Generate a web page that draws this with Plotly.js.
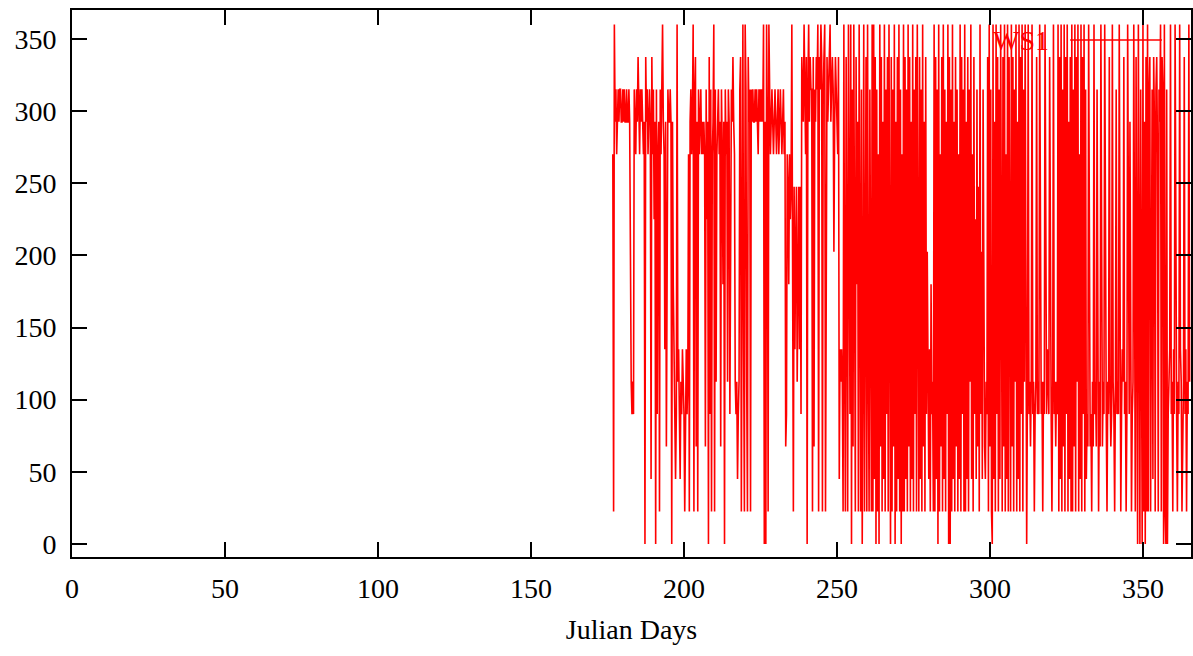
<!DOCTYPE html>
<html>
<head>
<meta charset="utf-8">
<script src="https://cdn.plot.ly/plotly-3.0.1.min.js"></script>
<style>
  html, body { margin: 0; padding: 0; background: #fff; }
  #chart { width: 1193px; height: 656px; }
</style>
</head>
<body>
<div id="chart"></div>
<script>
// ---- data (wind direction, degrees) ----
const seriesName = "WS1";
const startDay = 176.75;     // first sample (Julian day)
const stepDays = 0.25;       // sample spacing (days)

const windDirection = [
  270, 22.5, 360, 292.5, 315, 270, 292.5, 315, 292.5, 315, 315, 292.5, 292.5, 315, 292.5, 315, 292.5, 292.5, 315, 292.5,
  292.5, 315, 292.5, 135, 112.5, 90, 112.5, 90, 315, 292.5, 270, 315, 292.5, 337.5, 292.5, 270, 315, 292.5, 315, 292.5,
  270, 292.5, 0, 337.5, 292.5, 315, 270, 292.5, 315, 292.5, 45, 337.5, 270, 315, 225, 292.5, 0, 315, 90, 270,
  292.5, 22.5, 315, 270, 337.5, 360, 292.5, 270, 135, 292.5, 67.5, 157.5, 315, 292.5, 292.5, 315, 292.5, 0, 292.5, 180,
  135, 112.5, 45, 90, 360, 112.5, 135, 90, 45, 112.5, 90, 135, 112.5, 90, 22.5, 112.5, 135, 90, 112.5, 270,
  22.5, 292.5, 315, 270, 292.5, 360, 22.5, 315, 337.5, 67.5, 292.5, 22.5, 315, 270, 292.5, 315, 270, 292.5, 270, 292.5,
  270, 67.5, 315, 225, 292.5, 0, 337.5, 90, 315, 22.5, 270, 292.5, 360, 22.5, 315, 112.5, 270, 292.5, 315, 270,
  292.5, 67.5, 315, 270, 180, 292.5, 0, 315, 270, 292.5, 112.5, 315, 292.5, 90, 270, 315, 292.5, 337.5, 292.5, 270,
  112.5, 90, 112.5, 45, 90, 112.5, 315, 337.5, 22.5, 292.5, 360, 135, 22.5, 360, 315, 112.5, 22.5, 337.5, 292.5, 315,
  22.5, 315, 292.5, 315, 292.5, 292.5, 315, 292.5, 315, 292.5, 270, 315, 292.5, 315, 292.5, 315, 292.5, 360, 0, 292.5,
  0, 360, 292.5, 22.5, 360, 315, 270, 292.5, 315, 292.5, 270, 292.5, 315, 292.5, 270, 292.5, 315, 270, 292.5, 315,
  292.5, 270, 292.5, 315, 270, 292.5, 67.5, 90, 270, 247.5, 180, 270, 225, 247.5, 360, 180, 22.5, 247.5, 135, 202.5,
  247.5, 112.5, 180, 247.5, 135, 247.5, 90, 337.5, 315, 292.5, 360, 315, 270, 337.5, 0, 315, 360, 292.5, 337.5, 315,
  315, 22.5, 337.5, 67.5, 315, 292.5, 337.5, 315, 360, 22.5, 337.5, 315, 360, 337.5, 22.5, 315, 337.5, 360, 22.5, 315,
  337.5, 292.5, 315, 337.5, 360, 292.5, 315, 337.5, 315, 202.5, 292.5, 337.5, 315, 292.5, 270, 337.5, 45, 135, 112.5, 135,
  112.5, 22.5, 360, 135, 22.5, 337.5, 112.5, 22.5, 360, 135, 90, 360, 0, 315, 67.5, 360, 157.5, 22.5, 337.5, 180,
  292.5, 22.5, 360, 157.5, 22.5, 315, 0, 135, 360, 22.5, 202.5, 337.5, 22.5, 360, 135, 22.5, 315, 180, 22.5, 360,
  22.5, 360, 45, 337.5, 0, 315, 22.5, 270, 0, 360, 67.5, 337.5, 22.5, 292.5, 45, 360, 22.5, 315, 90, 337.5,
  22.5, 360, 45, 0, 337.5, 22.5, 315, 67.5, 360, 0, 292.5, 22.5, 337.5, 45, 360, 22.5, 315, 0, 270, 22.5,
  360, 22.5, 337.5, 45, 315, 22.5, 360, 67.5, 337.5, 22.5, 292.5, 45, 360, 22.5, 315, 90, 337.5, 22.5, 360, 45,
  22.5, 337.5, 45, 315, 22.5, 360, 67.5, 292.5, 22.5, 337.5, 90, 202.5, 112.5, 45, 135, 22.5, 180, 90, 112.5, 22.5,
  360, 22.5, 337.5, 45, 315, 0, 360, 22.5, 270, 67.5, 337.5, 22.5, 360, 45, 315, 22.5, 292.5, 90, 360, 0,
  337.5, 0, 315, 22.5, 360, 45, 292.5, 22.5, 337.5, 67.5, 315, 22.5, 270, 45, 360, 22.5, 337.5, 90, 315, 22.5,
  360, 22.5, 292.5, 45, 337.5, 22.5, 315, 112.5, 360, 45, 270, 22.5, 337.5, 90, 225, 45, 315, 67.5, 247.5, 22.5,
  360, 90, 202.5, 45, 315, 112.5, 67.5, 45, 112.5, 90, 337.5, 22.5, 360, 67.5, 315, 22.5, 0, 360, 45, 292.5,
  22.5, 360, 90, 337.5, 22.5, 315, 45, 360, 112.5, 22.5, 337.5, 67.5, 360, 22.5, 270, 45, 360, 22.5, 337.5, 90,
  22.5, 360, 67.5, 337.5, 22.5, 315, 112.5, 360, 22.5, 292.5, 45, 360, 22.5, 337.5, 90, 360, 22.5, 315, 112.5, 360,
  90, 0, 112.5, 360, 90, 112.5, 67.5, 112.5, 360, 90, 112.5, 22.5, 90, 112.5, 337.5, 90, 112.5, 90, 360, 112.5,
  90, 112.5, 22.5, 112.5, 90, 360, 112.5, 90, 135, 112.5, 90, 337.5, 112.5, 90, 22.5, 112.5, 360, 90, 112.5, 67.5,
  112.5, 90, 360, 22.5, 337.5, 45, 360, 22.5, 315, 67.5, 360, 22.5, 337.5, 90, 360, 22.5, 292.5, 45, 337.5, 22.5,
  360, 22.5, 315, 67.5, 360, 22.5, 337.5, 112.5, 360, 22.5, 270, 45, 360, 22.5, 337.5, 90, 360, 22.5, 315, 45,
  90, 67.5, 360, 112.5, 67.5, 90, 22.5, 112.5, 67.5, 360, 90, 112.5, 67.5, 315, 90, 22.5, 112.5, 67.5, 360, 90,
  67.5, 112.5, 90, 360, 112.5, 90, 22.5, 112.5, 90, 337.5, 112.5, 67.5, 90, 360, 112.5, 90, 22.5, 112.5, 315, 90,
  112.5, 90, 360, 112.5, 22.5, 90, 135, 112.5, 337.5, 90, 112.5, 22.5, 90, 360, 112.5, 90, 292.5, 112.5, 22.5, 90,
  112.5, 360, 90, 22.5, 337.5, 112.5, 0, 360, 22.5, 0, 315, 45, 0, 360, 22.5, 292.5, 0, 337.5, 22.5, 360,
  22.5, 315, 337.5, 22.5, 292.5, 315, 45, 337.5, 292.5, 22.5, 315, 337.5, 270, 22.5, 315, 292.5, 360, 22.5, 337.5, 315,
  0, 360, 22.5, 0, 315, 0, 90, 112.5, 135, 360, 90, 112.5, 22.5, 135, 90, 360, 112.5, 90, 22.5, 112.5,
  90, 360, 135, 112.5, 22.5, 90, 112.5, 337.5, 90, 135, 22.5, 112.5, 90, 360, 112.5
];

const xTickVals = [0, 50, 100, 150, 200, 250, 300, 350];
const yTickVals = [0, 50, 100, 150, 200, 250, 300, 350];
const xRange = [0, 365.7];
const yRange = [-9, 370];
const xTitle = "Julian Days";

// ---- styling ----
const serif = "Liberation Serif, Times New Roman, serif";
const lineColor = "#ff0000";

const trace = {
  type: "scatter",
  mode: "lines",
  name: seriesName,
  x0: startDay,
  dx: stepDays,
  y: windDirection,
  line: { color: lineColor, width: 1.6 },
  showlegend: false,
  hoverinfo: "x+y"
};

const axisCommon = {
  showgrid: false,
  zeroline: false,
  showline: true,
  linecolor: "#000",
  linewidth: 2,
  mirror: "ticks",
  ticks: "inside",
  ticklen: 15,
  tickwidth: 2,
  tickcolor: "#000",
  tickfont: { family: serif, size: 28, color: "#000" }
};

const layout = {
  width: 1193,
  height: 656,
  paper_bgcolor: "#fff",
  plot_bgcolor: "#fff",
  margin: { l: 72, r: 2, t: 10, b: 99 },
  showlegend: false,
  xaxis: Object.assign({}, axisCommon, {
    range: xRange,
    tickvals: xTickVals,
    ticklabelstandoff: 5,
    title: { text: xTitle, font: { family: serif, size: 28, color: "#000" }, standoff: 17 }
  }),
  yaxis: Object.assign({}, axisCommon, {
    range: yRange,
    tickvals: yTickVals,
    ticklabelstandoff: 8
  }),
  annotations: [{
    xref: "paper", yref: "paper",
    x: 0.875, y: 0.945,
    xanchor: "right", yanchor: "middle",
    text: seriesName,
    showarrow: false,
    font: { family: serif, size: 28, color: lineColor }
  }],
  shapes: [{
    type: "line", xref: "paper", yref: "paper",
    x0: 0.892, x1: 0.974, y0: 0.945, y1: 0.945,
    line: { color: lineColor, width: 1.5 }
  }]
};

Plotly.newPlot("chart", [trace], layout, { displayModeBar: false, staticPlot: true });
</script>
</body>
</html>
